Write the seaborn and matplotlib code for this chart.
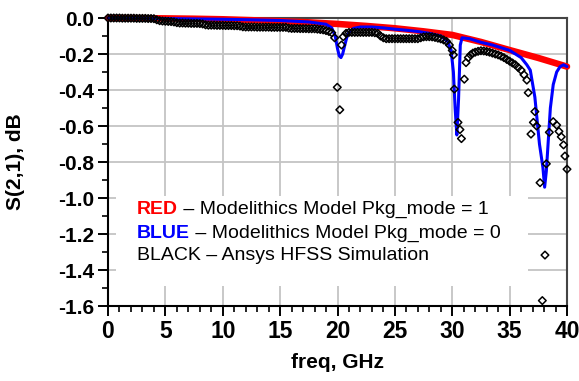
import numpy as np
import pandas as pd
import matplotlib
matplotlib.use("Agg")
import matplotlib.pyplot as plt
import seaborn as sns
from matplotlib.ticker import MultipleLocator, FormatStrFormatter
from matplotlib.patches import Rectangle

# ---------------- data ----------------
red_f = [0, 2.5, 5, 7.5, 10, 12.5, 15, 17.5, 20, 22.5, 25, 27.5, 30, 32.5, 35, 37.5, 40]
red_v = [0.0, -0.001, -0.002, -0.004, -0.007, -0.012, -0.018, -0.024, -0.033, -0.044,
         -0.057, -0.074, -0.094, -0.133, -0.178, -0.222, -0.27]

blue_f = [0, 2.5, 5, 7.5, 10, 12.5, 15, 17.5, 19, 19.5, 19.8, 20.0, 20.15, 20.3, 20.45,
          20.6, 20.8, 21.0, 21.4, 22, 23, 24, 25, 26, 27, 28, 29, 29.6, 29.9, 30.1, 30.25,
          30.4, 30.55, 30.7, 30.85, 31.5, 32.5, 33.5, 34.5, 35, 35.5, 36, 36.5, 36.8, 37.2,
          37.6, 37.9, 38.05, 38.2, 38.4, 38.55, 38.8, 39.1, 39.4, 39.7, 40]
blue_v = [0.0, -0.001, -0.003, -0.005, -0.007, -0.010, -0.014, -0.022, -0.035, -0.055,
          -0.10, -0.17, -0.21, -0.22, -0.20, -0.16, -0.11, -0.08, -0.058, -0.05, -0.05,
          -0.055, -0.062, -0.068, -0.075, -0.085, -0.10, -0.13, -0.18, -0.30, -0.50, -0.65,
          -0.45, -0.15, -0.11, -0.115, -0.135, -0.15, -0.17, -0.18, -0.20, -0.22, -0.26,
          -0.29, -0.44, -0.70, -0.83, -0.94, -0.85, -0.65, -0.50, -0.37, -0.30, -0.27,
          -0.26, -0.27]

black_f = [0.0, 0.25, 0.5, 0.75, 1.0, 1.25, 1.5, 1.75, 2.0, 2.25, 2.5, 2.75, 3.0, 3.25,
           3.5, 3.75, 4.0, 4.25, 4.5, 4.75, 5.0, 5.25, 5.5, 5.75, 6.0, 6.25, 6.5, 6.75,
           7.0, 7.25, 7.5, 7.75, 8.0, 8.25, 8.5, 8.75, 9.0, 9.25, 9.5, 9.75, 10.0, 10.25,
           10.5, 10.75, 11.0, 11.25, 11.5, 11.75, 12.0, 12.25, 12.5, 12.75, 13.0, 13.25,
           13.5, 13.75, 14.0, 14.25, 14.5, 14.75, 15.0, 15.25, 15.5, 15.75, 16.0, 16.25,
           16.5, 16.75, 17.0, 17.25, 17.5, 17.75, 18.0, 18.25, 18.5, 18.75, 19.0, 19.25,
           19.5, 19.75, 19.98, 20.2, 20.35, 20.5, 20.75, 21.0, 21.25, 21.5, 21.75, 22.0,
           22.25, 22.5, 22.75, 23.0, 23.25, 23.5, 23.75, 24.0, 24.25, 24.5, 24.75, 25.0,
           25.25, 25.5, 25.75, 26.0, 26.25, 26.5, 26.75, 27.0, 27.25, 27.5, 27.75, 28.0,
           28.25, 28.5, 28.75, 29.0, 29.25, 29.5, 29.75, 30.0, 30.1, 30.18, 30.5, 30.67,
           30.8, 31.05, 31.2, 31.4, 31.6, 31.8, 32.0, 32.25, 32.5, 32.75, 33.0, 33.25,
           33.5, 33.75, 34.0, 34.25, 34.5, 34.75, 35.0, 35.25, 35.5, 35.75, 36.0, 36.25,
           36.5, 36.62, 36.86, 37.07, 37.2, 37.35, 37.65, 37.85, 38.08, 38.2, 38.46, 38.8,
           39.1, 39.3, 39.5, 39.7, 39.82, 40.0]
black_v = [0.0, 0.0, 0.0, 0.0, 0.0, -0.001, -0.001, -0.001, -0.001, -0.001, -0.002, -0.002,
           -0.002, -0.002, -0.003, -0.003, -0.004, -0.010, -0.015, -0.017, -0.018, -0.019,
           -0.020, -0.022, -0.026, -0.028, -0.028, -0.029, -0.029, -0.030, -0.030, -0.030,
           -0.031, -0.033, -0.038, -0.040, -0.040, -0.040, -0.041, -0.041, -0.041, -0.042,
           -0.042, -0.042, -0.043, -0.043, -0.045, -0.049, -0.050, -0.050, -0.050, -0.050,
           -0.051, -0.051, -0.051, -0.051, -0.051, -0.052, -0.052, -0.052, -0.052, -0.052,
           -0.052, -0.056, -0.058, -0.058, -0.058, -0.059, -0.059, -0.059, -0.060, -0.060,
           -0.060, -0.062, -0.064, -0.066, -0.070, -0.075, -0.082, -0.110, -0.385, -0.510,
           -0.150, -0.104, -0.085, -0.080, -0.080, -0.080, -0.080, -0.080, -0.080, -0.080,
           -0.080, -0.080, -0.082, -0.085, -0.100, -0.110, -0.115, -0.115, -0.115, -0.115,
           -0.115, -0.115, -0.115, -0.115, -0.115, -0.115, -0.115, -0.115, -0.110, -0.105,
           -0.104, -0.104, -0.105, -0.108, -0.112, -0.116, -0.122, -0.130, -0.150, -0.180,
           -0.205, -0.395, -0.580, -0.620, -0.670, -0.340, -0.248, -0.220, -0.205, -0.195,
           -0.190, -0.185, -0.182, -0.183, -0.186, -0.190, -0.195, -0.200, -0.205, -0.212,
           -0.220, -0.230, -0.240, -0.250, -0.260, -0.275, -0.290, -0.315, -0.345, -0.415,
           -0.645, -0.580, -0.520, -0.600, -0.915, -1.570, -1.317, -0.810, -0.635, -0.576,
           -0.595, -0.630, -0.660, -0.705, -0.767, -0.840]

x_ticks = [0, 5, 10, 15, 20, 25, 30, 35, 40]
y_ticks = [0.0, -0.2, -0.4, -0.6, -0.8, -1.0, -1.2, -1.4, -1.6]

legend_lines = [("RED", "#ff0000", " \u2013 Modelithics Model Pkg_mode = 1"),
                ("BLUE", "#0000ff", " \u2013 Modelithics Model Pkg_mode = 0"),
                ("BLACK", "#000000", " \u2013 Ansys HFSS Simulation")]

# ---------------- style ----------------
sns.set_theme(style="white")
plt.rcParams["font.family"] = ["Liberation Sans", "DejaVu Sans"]
plt.rcParams["axes.unicode_minus"] = False
plt.rcParams["text.color"] = "black"
plt.rcParams["axes.labelcolor"] = "black"
plt.rcParams["xtick.color"] = "black"
plt.rcParams["ytick.color"] = "black"

fig = plt.figure(figsize=(5.79, 3.81), dpi=100)
ax = fig.add_axes([108 / 579, 1 - 306 / 381, 459 / 579, 288 / 381])

red_df = pd.DataFrame({"f": red_f, "v": red_v})
blue_df = pd.DataFrame({"f": blue_f, "v": blue_v})
black_df = pd.DataFrame({"f": black_f, "v": black_v})

sns.lineplot(data=red_df, x="f", y="v", color="#ff0000", linewidth=4.7, ax=ax,
             sort=False, zorder=3, clip_on=False)
sns.lineplot(data=blue_df, x="f", y="v", color="#0000ff", linewidth=2.2, ax=ax,
             sort=False, zorder=4, clip_on=False)
sns.scatterplot(data=black_df, x="f", y="v", marker="D", s=15, facecolors="none",
                edgecolor="black", linewidth=1.1, color="black", ax=ax, zorder=5,
                clip_on=False)

ax.set_xlim(0, 40)
ax.set_ylim(-1.6, 0.0)
ax.set_xticks(x_ticks)
ax.set_yticks(y_ticks)
ax.xaxis.set_minor_locator(MultipleLocator(1))
ax.yaxis.set_minor_locator(MultipleLocator(0.1))
ax.yaxis.set_major_formatter(FormatStrFormatter("%.1f"))

ax.set_axisbelow(True)
ax.grid(True, which="major", color="#c4c4c4", linewidth=1.3)
for side in ["left", "bottom"]:
    ax.spines[side].set_color("black")
    ax.spines[side].set_linewidth(1.5)
for side in ["top", "right"]:
    ax.spines[side].set_color("#444444")
    ax.spines[side].set_linewidth(1.5)

ax.tick_params(axis="both", which="major", direction="out", length=7, width=1.4,
               color="black", labelcolor="black", bottom=True, left=True)
ax.tick_params(axis="both", which="minor", direction="out", length=4, width=1.2,
               color="black", bottom=True, left=True)
ax.tick_params(axis="y", which="major", labelsize=15, pad=3)
ax.tick_params(axis="x", which="major", labelsize=16.5, pad=3)
for lab in ax.get_xticklabels() + ax.get_yticklabels():
    lab.set_fontweight("bold")

ax.set_xlabel("freq, GHz", fontsize=15, fontweight="bold", labelpad=7, color="black")
ax.set_ylabel("S(2,1), dB", fontsize=15, fontweight="bold", labelpad=24, color="black")

# legend box (white block hiding grid)
ax.add_patch(Rectangle((8 / 459, 20 / 288), 412 / 459, 90 / 288, transform=ax.transAxes,
                       facecolor="white", edgecolor="none", zorder=1))
y_pos = [(306 - 210) / 288, (306 - 233) / 288, (306 - 256) / 288]
for (word, col, rest), yy in zip(legend_lines, y_pos):
    if col == "#000000":
        ax.text(29 / 459, yy, word + rest, transform=ax.transAxes, fontsize=14,
                color="black", va="center", ha="left", zorder=6)
    else:
        t1 = ax.text(29 / 459, yy, word, transform=ax.transAxes, fontsize=14,
                     fontweight="bold", color=col, va="center", ha="left", zorder=6)
        ax.annotate(rest, xy=(1, 0), xycoords=t1, fontsize=14, color="black",
                    va="bottom", ha="left", zorder=6)

fig.savefig("out.png", dpi=100)
